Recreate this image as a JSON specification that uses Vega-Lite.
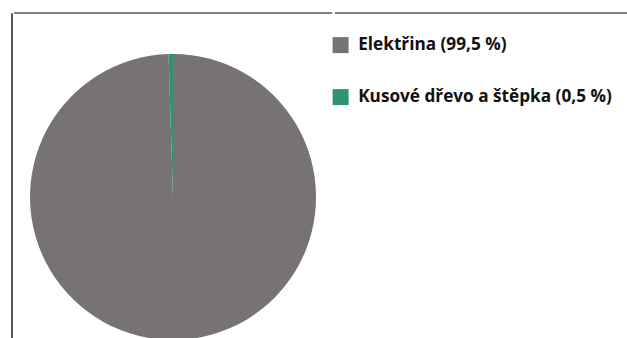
{
  "$schema": "https://vega.github.io/schema/vega-lite/v6.json",
  "padding": {"left": 10, "top": 11, "right": 0, "bottom": 0},
  "background": "#ffffff",
  "data": {
    "values": [
      {"category": "Elektřina (99,5 %)", "value": 99.5},
      {"category": "Kusové dřevo a štěpka (0,5 %)", "value": 0.5}
    ]
  },
  "spacing": 0,
  "hconcat": [
    {
      "width": 1,
      "height": 368,
      "view": {"stroke": "#555555", "strokeWidth": 1},
      "mark": {"type": "rule", "opacity": 0},
      "encoding": {}
    },
    {
      "width": 318,
      "height": 368,
      "view": {"stroke": "#555555", "strokeWidth": 1.5, "strokeDash": [318, 5000]},
      "mark": {"type": "arc", "outerRadius": 143, "stroke": null},
      "encoding": {
        "theta": {"field": "value", "type": "quantitative", "stack": true},
        "color": {
          "field": "category",
          "type": "nominal",
          "scale": {
            "domain": ["Elektřina (99,5 %)", "Kusové dřevo a štěpka (0,5 %)"],
            "range": ["#777373", "#2f9270"]
          },
          "legend": {
            "title": null,
            "orient": "none",
            "legendX": 321,
            "legendY": 23.5,
            "symbolType": "square",
            "symbolSize": 256,
            "symbolStrokeWidth": 0,
            "labelFont": "Open Sans",
            "labelFontSize": 17.2,
            "labelFontWeight": "bold",
            "labelColor": "#111111",
            "labelOffset": 9,
            "labelLimit": 400,
            "rowPadding": 34,
            "padding": 0
          }
        }
      }
    },
    {
      "width": 320,
      "height": 368,
      "view": {"stroke": "#555555", "strokeWidth": 1.5, "strokeDash": [320, 3000]},
      "mark": {"type": "rule", "opacity": 0},
      "encoding": {}
    }
  ]
}
